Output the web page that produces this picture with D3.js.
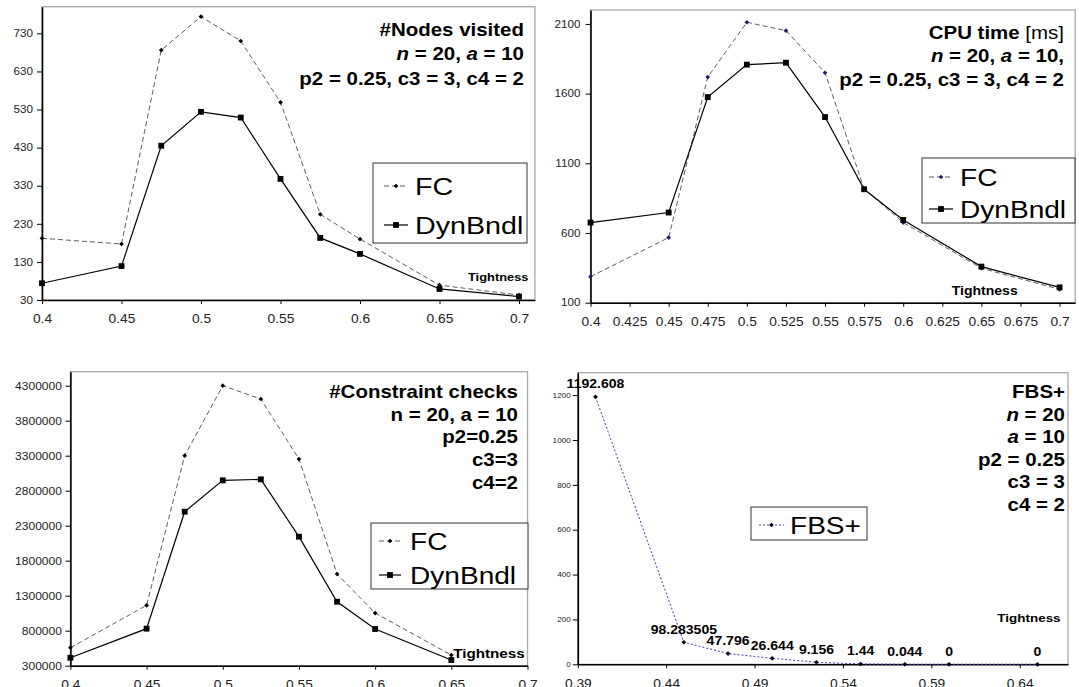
<!DOCTYPE html>
<html><head><meta charset="utf-8">
<script src="https://cdn.jsdelivr.net/npm/d3@7"></script>
<style>
body{margin:0;background:#fff}
svg{display:block}
text{font-family:"Liberation Sans",Arial,Helvetica,sans-serif;white-space:pre}
</style>
</head><body>
<svg id="c" width="1079" height="687"></svg>
<script>
// ---------- data ----------
const tightness = [0.4, 0.45, 0.475, 0.5, 0.525, 0.55, 0.575, 0.6, 0.65, 0.7];
const nodesFC  = [192, 177, 686, 774, 710, 549, 255, 190, 69, 43];
const nodesDyn = [74, 119, 435, 524, 509, 348, 193, 151, 59, 39];
const cpuFC    = [287, 567, 1719, 2112, 2052, 1750, 917, 675, 347, 196];
const cpuDyn   = [675, 747, 1575, 1808, 1822, 1432, 914, 694, 359, 210];
const tightness3 = [0.4, 0.45, 0.475, 0.5, 0.525, 0.55, 0.575, 0.6, 0.65];
const checksFC  = [557000, 1162000, 3300000, 4300000, 4110000, 3252000, 1610000, 1052000, 452000];
const checksDyn = [414000, 829000, 2500000, 2948000, 2962000, 2143000, 1214000, 824000, 381000];
const fbsTightness = [0.4, 0.45, 0.475, 0.5, 0.525, 0.55, 0.575, 0.6, 0.65];
const fbsValues = [1192.608, 98.283505, 47.796, 26.644, 9.156, 1.44, 0.044, 0, 0];
const fbsLabels = ["1192.608", "98.283505", "47.796", "26.644", "9.156", "1.44", "0.044", "0", "0"];

const nodesTicks  = [30, 130, 230, 330, 430, 530, 630, 730];
const cpuTicks    = [100, 600, 1100, 1600, 2100];
const checksTicks = [300000, 800000, 1300000, 1800000, 2300000, 2800000, 3300000, 3800000, 4300000];
const fbsTicks    = [0, 200, 400, 600, 800, 1000, 1200];
const xTicks05  = [0.4, 0.45, 0.5, 0.55, 0.6, 0.65, 0.7];
const xTicks025 = [0.4, 0.425, 0.45, 0.475, 0.5, 0.525, 0.55, 0.575, 0.6, 0.625, 0.65, 0.675, 0.7];
const xTicksFbs = [0.39, 0.44, 0.49, 0.54, 0.59, 0.64];

const legendFC = "FC", legendDyn = "DynBndl", legendFbs = "FBS+";
const axisLabel = "Tightness";

// ---------- helpers ----------
const SX = 1.17;
const svg = d3.select('#c');

function label(g, x, y, parts, o) {
  const gg = g.append('g').attr('transform', `translate(${x},${y}) scale(${o.sx || SX},1)`);
  const t = gg.append('text')
    .attr('text-anchor', o.anchor || 'start')
    .attr('font-size', o.size)
    .attr('font-weight', o.weight || 'normal')
    .attr('fill', o.fill || '#000');
  const arr = Array.isArray(parts) ? parts : [[parts]];
  arr.forEach(([s, st]) => {
    const ts = t.append('tspan').text(s);
    if (st === 'i') ts.attr('font-style', 'italic');
    if (st === 'n') ts.attr('font-weight', 'normal');
  });
  return t;
}

function fmt(d) { return String(+d.toFixed(4)); }

function panel(cfg) {
  const x = d3.scaleLinear().domain(cfg.xDomain).range([cfg.left, cfg.right]);
  const y = d3.scaleLinear().domain(cfg.yDomain).range([cfg.bottom, cfg.top]);
  const g = svg.append('g');

  g.append('rect').attr('x', cfg.left).attr('y', cfg.top)
    .attr('width', cfg.right - cfg.left).attr('height', cfg.bottom - cfg.top)
    .attr('fill', 'none').attr('stroke', '#a8a8a8').attr('stroke-width', 1.3);

  const ya = g.append('g').attr('transform', `translate(${cfg.left},0)`)
    .call(d3.axisLeft(y).tickValues(cfg.yTicks).tickSize(5).tickSizeOuter(0).tickFormat(d => String(d)));
  ya.select('.domain').attr('stroke', '#000').attr('stroke-width', 1.6);
  ya.selectAll('.tick line').attr('stroke', '#000');
  ya.selectAll('text').attr('font-size', cfg.yFont).attr('fill', '#222')
    .attr('x', -cfg.yGap / SX).attr('transform', `scale(${SX},1)`);

  const xa = g.append('g').attr('transform', `translate(0,${cfg.bottom})`)
    .call(d3.axisBottom(x).tickValues(cfg.xTicks).tickSize(4).tickSizeOuter(0).tickFormat(fmt));
  xa.select('.domain').attr('stroke', '#000').attr('stroke-width', 1.6);
  xa.selectAll('.tick line').attr('stroke', '#000');
  xa.selectAll('text').attr('font-size', 12.3).attr('fill', '#222')
    .attr('y', 14.5).attr('transform', `scale(${SX - 0.05},1)`);

  return {x, y, g};
}

function markerPath(st) {
  return d3.symbol(st.symbol, st.size)();
}
function markerTransform(st, px, py) {
  return `translate(${px},${py})` + (st.rotate ? ` rotate(${st.rotate})` : '');
}

function series(p, xs, ys, st) {
  const pts = xs.map((v, i) => [v, ys[i]]);
  const line = d3.line().x(d => p.x(d[0])).y(d => p.y(d[1]));
  p.g.append('path').datum(pts).attr('d', line).attr('fill', 'none')
    .attr('stroke', st.stroke).attr('stroke-width', st.width)
    .attr('stroke-dasharray', st.dash || null);
  p.g.selectAll(null).data(pts).enter().append('path')
    .attr('transform', d => markerTransform(st, p.x(d[0]), p.y(d[1])))
    .attr('d', markerPath(st))
    .attr('fill', st.marker);
  return pts;
}

const FCstyle  = {stroke: '#333', width: 0.8, dash: '5,3', symbol: d3.symbolSquare, rotate: 45, size: 11, marker: '#000'};
const DYNstyle = {stroke: '#000', width: 1.2, symbol: d3.symbolSquare, size: 34, marker: '#000'};

function legendItem(g, x1, x2, yy, tx, text, st, size) {
  g.append('line').attr('x1', x1).attr('x2', x2).attr('y1', yy).attr('y2', yy)
    .attr('stroke', st.stroke).attr('stroke-width', st.width).attr('stroke-dasharray', st.dash || null);
  g.append('path').attr('transform', markerTransform(st, (x1 + x2) / 2, yy))
    .attr('d', markerPath(st)).attr('fill', st.marker);
  label(g, tx, yy + 8.5, text, {size: size});
}

function legendBox(g, x, y, w, h) {
  g.append('rect').attr('x', x).attr('y', y).attr('width', w).attr('height', h)
    .attr('fill', '#fff').attr('stroke', '#333').attr('stroke-width', 1);
}

// ---------- panel 1: nodes visited ----------
{
  const p = panel({left: 42, right: 534.9, top: 6.7, bottom: 300, xDomain: [0.4, 0.71], yDomain: [30, 800],
    yTicks: nodesTicks, xTicks: xTicks05, yFont: 10, yGap: 9});
  series(p, tightness, nodesFC, FCstyle);
  series(p, tightness, nodesDyn, DYNstyle);
  legendBox(p.g, 373, 163, 154, 80);
  legendItem(p.g, 384, 408, 186, 415, legendFC, FCstyle, 24.5);
  legendItem(p.g, 384, 408, 225, 415, legendDyn, DYNstyle, 24.5);
  const o = {size: 17.5, weight: 'bold', anchor: 'end'};
  label(p.g, 524, 36, '#Nodes visited', o);
  label(p.g, 524, 60, [['n', 'i'], [' = 20, '], ['a', 'i'], [' = 10']], o);
  label(p.g, 524, 85, 'p2 = 0.25, c3 = 3, c4 = 2', o);
  label(p.g, 528.5, 281, axisLabel, {size: 11, weight: 'bold', anchor: 'end'});
}

// ---------- panel 2: CPU time ----------
{
  const p = panel({left: 590.5, right: 1075.2, top: 10, bottom: 302.7, xDomain: [0.4, 0.71], yDomain: [100, 2200],
    yTicks: cpuTicks, xTicks: xTicks025, yFont: 10, yGap: 10});
  const fc2 = Object.assign({}, FCstyle, {marker: '#1c1c6a'});
  series(p, tightness, cpuFC, fc2);
  series(p, tightness, cpuDyn, DYNstyle);
  legendBox(p.g, 922, 158, 153, 65);
  legendItem(p.g, 929, 953, 177, 960, legendFC, fc2, 24);
  legendItem(p.g, 929, 953, 209, 960, legendDyn, DYNstyle, 24);
  const o = {size: 17.5, weight: 'bold', anchor: 'end'};
  label(p.g, 1064, 38.5, [['CPU time '], ['[ms]', 'n']], o);
  label(p.g, 1064, 62, [['n', 'i'], [' = 20, '], ['a', 'i'], [' = 10,']], o);
  label(p.g, 1064, 85.5, 'p2 = 0.25, c3 = 3, c4 = 2', o);
  label(p.g, 1017.7, 295, axisLabel, {size: 12, weight: 'bold', anchor: 'end'});
}

// ---------- panel 3: constraint checks ----------
{
  const p = panel({left: 70.4, right: 527.5, top: 371.7, bottom: 665.7, xDomain: [0.4, 0.7], yDomain: [300000, 4500000],
    yTicks: checksTicks, xTicks: xTicks05, yFont: 10.3, yGap: 8.5});
  series(p, tightness3, checksFC, FCstyle);
  series(p, tightness3, checksDyn, DYNstyle);
  legendBox(p.g, 371, 523, 157, 66);
  legendItem(p.g, 379, 401, 541, 410, legendFC, FCstyle, 24);
  legendItem(p.g, 379, 401, 575, 410, legendDyn, DYNstyle, 24);
  const o = {size: 17.5, weight: 'bold', anchor: 'end'};
  label(p.g, 518, 398, '#Constraint checks', o);
  label(p.g, 518, 420.5, 'n = 20, a = 10', o);
  label(p.g, 518, 443, 'p2=0.25', o);
  label(p.g, 518, 465.5, 'c3=3', o);
  label(p.g, 518, 489, 'c4=2', o);
  label(p.g, 524.7, 657.5, axisLabel, {size: 13, weight: 'bold', anchor: 'end'});
}

// ---------- panel 4: FBS+ ----------
{
  const p = panel({left: 577.8, right: 1068, top: 372.7, bottom: 664.3, xDomain: [0.39, 0.6673], yDomain: [0, 1300],
    yTicks: fbsTicks, xTicks: xTicksFbs, yFont: 7, yGap: 7});
  const fbsStyle = {stroke: '#3c3cc8', width: 1, dash: '2,2', symbol: d3.symbolSquare, rotate: 45, size: 11, marker: '#000'};
  const pts = series(p, fbsTightness, fbsValues, fbsStyle);
  pts.forEach((d, i) => {
    label(p.g, p.x(d[0]), p.y(d[1]) - 8.5, fbsLabels[i], {size: 12, weight: 'bold', anchor: 'middle'});
  });
  legendBox(p.g, 751, 507, 116, 33);
  legendItem(p.g, 759, 784, 525, 790, legendFbs, fbsStyle, 24);
  const o = {size: 17.5, weight: 'bold', anchor: 'end'};
  label(p.g, 1065, 398, 'FBS+', o);
  label(p.g, 1065, 421, [['n', 'i'], [' = 20']], o);
  label(p.g, 1065, 443, [['a', 'i'], [' = 10']], o);
  label(p.g, 1065, 465.5, 'p2 = 0.25', o);
  label(p.g, 1065, 488, 'c3 = 3', o);
  label(p.g, 1065, 510.5, 'c4 = 2', o);
  label(p.g, 1060.6, 622, axisLabel, {size: 11.5, weight: 'bold', anchor: 'end'});
}
</script>
</body></html>
